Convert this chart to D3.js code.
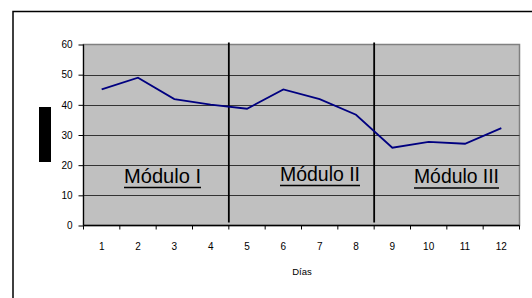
<!DOCTYPE html>
<html>
<head>
<meta charset="utf-8">
<script src="https://cdn.jsdelivr.net/npm/d3@7"></script>
<style>
  body { margin: 0; background: #fff; }
  svg { display: block; font-family: "Liberation Sans", Arial, sans-serif; }
</style>
</head>
<body>
<script>
// data
let dias = [1, 2, 3, 4, 5, 6, 7, 8, 9, 10, 11, 12];
let valores = [45.1, 49.0, 41.9, 40.1, 38.7, 45.1, 41.9, 36.7, 25.8, 27.7, 27.1, 32.3];
let yTicks = [0, 10, 20, 30, 40, 50, 60];
let modulos = ["Módulo I", "Módulo II", "Módulo III"];
let moduloInicio = [1, 5, 9];
let xTitulo = "Días";

let width = 532, height = 298;
let plot = { left: 83.5, top: 44.5, right: 519.5, bottom: 225.5 };

let svg = d3.select('body').append('svg').attr('width', width).attr('height', height);

// outer chart frame
svg.append('rect')
    .attr('x', 13).attr('y', 11.5)
    .attr('width', 540).attr('height', 300)
    .attr('fill', 'none')
    .attr('stroke', '#000')
    .attr('stroke-width', 1.5);

let x = d3.scaleBand().domain(dias).range([plot.left, plot.right]).padding(0);
let y = d3.scaleLinear().domain([0, 60]).range([plot.bottom, plot.top]);

// plot background
svg.append('rect')
    .attr('x', plot.left).attr('y', plot.top)
    .attr('width', plot.right - plot.left).attr('height', plot.bottom - plot.top)
    .attr('fill', '#c0c0c0')
    .attr('stroke', '#808080')
    .attr('stroke-width', 1.5);

// gridlines
svg.append('g').selectAll('line').data(yTicks.filter(d => d > 0 && d < 60)).enter().append('line')
    .attr('x1', plot.left).attr('x2', plot.right)
    .attr('y1', d => Math.round(y(d)) + 0.5).attr('y2', d => Math.round(y(d)) + 0.5)
    .attr('stroke', '#333')
    .attr('stroke-width', 1.2);

// module separators
svg.append('g').selectAll('line').data(moduloInicio.slice(1)).enter().append('line')
    .attr('x1', d => x(d)).attr('x2', d => x(d))
    .attr('y1', plot.top - 2).attr('y2', plot.bottom - 3)
    .attr('stroke', '#000')
    .attr('stroke-width', 1.8);

// y axis
let yAxis = d3.axisLeft(y).tickValues(yTicks).tickSize(5).tickPadding(6);
let yG = svg.append('g').attr('transform', 'translate(' + plot.left + ',0)').call(yAxis);
yG.select('.domain').attr('stroke', '#000').attr('stroke-width', 1.2).attr('d', 'M0,' + plot.top + 'V' + plot.bottom);
yG.selectAll('.tick line').attr('stroke', '#000');
yG.selectAll('text').attr('font-size', '10px').attr('font-family', '"Liberation Sans", Arial, sans-serif').attr('fill', '#000');

// x axis: ticks between categories
let xAxisG = svg.append('g').attr('transform', 'translate(0,' + plot.bottom + ')');
xAxisG.append('line')
    .attr('x1', plot.left).attr('x2', plot.right)
    .attr('stroke', '#000').attr('stroke-width', 1.5);
xAxisG.selectAll('.tk').data(dias.concat([13])).enter().append('line')
    .attr('x1', d => d === 13 ? plot.right : x(d)).attr('x2', d => d === 13 ? plot.right : x(d))
    .attr('y1', 0).attr('y2', 4)
    .attr('stroke', '#000');
xAxisG.selectAll('text').data(dias).enter().append('text')
    .attr('x', d => x(d) + x.bandwidth() / 2)
    .attr('y', 24.5)
    .attr('text-anchor', 'middle')
    .attr('font-size', '10px')
    .text(d => d);

svg.append('text')
    .attr('x', 302).attr('y', 274.5)
    .attr('text-anchor', 'middle')
    .attr('font-size', '9.5px')
    .text(xTitulo);

// y axis title block
svg.append('rect')
    .attr('x', 39).attr('y', 107)
    .attr('width', 12).attr('height', 55)
    .attr('fill', '#000');

// line
let line = d3.line()
    .x((d, i) => x(dias[i]) + x.bandwidth() / 2)
    .y(d => y(d));

svg.append('path')
    .attr('d', line(valores))
    .attr('fill', 'none')
    .attr('stroke', '#000080')
    .attr('stroke-width', 1.8);

// module labels
let labelPos = [
    { cx: 162.5, base: 182.5, ul: 187.5 },
    { cx: 320, base: 181, ul: 185.5 },
    { cx: 456.5, base: 183, ul: 188 }
];
modulos.forEach((m, i) => {
    let t = svg.append('text')
        .attr('x', labelPos[i].cx).attr('y', labelPos[i].base)
        .attr('text-anchor', 'middle')
        .attr('font-size', '20px')
        .attr('textLength', [77, 80, 85][i])
        .attr('lengthAdjust', 'spacingAndGlyphs')
        .text(m);
    let w = [77, 80, 85][i];
    svg.append('line')
        .attr('x1', labelPos[i].cx - w / 2).attr('x2', labelPos[i].cx + w / 2)
        .attr('y1', labelPos[i].ul).attr('y2', labelPos[i].ul)
        .attr('stroke', '#000').attr('stroke-width', 1.6);
});
</script>
</body>
</html>
